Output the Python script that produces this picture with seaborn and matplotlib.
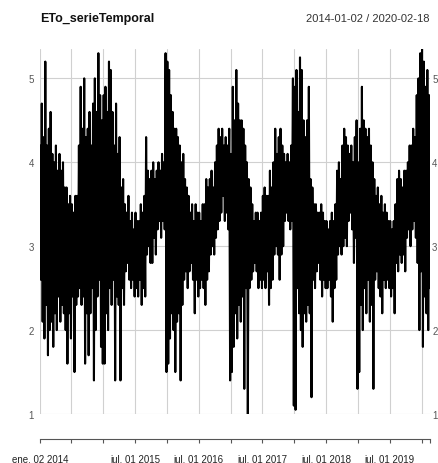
import matplotlib
matplotlib.use("Agg")
import matplotlib.pyplot as plt
import seaborn as sns
import numpy as np
import pandas as pd

# ---- data (~6 readings per month: high/low alternating) ----
eto_2014 = [
    4.2, 2.6, 4.7, 2.1, 4.3, 1.9,   # Jan
    5.2, 2.3, 4.2, 1.7, 4.4, 2.0,   # Feb
    4.6, 2.1, 4.1, 1.8, 4.0, 2.2,   # Mar
    4.2, 2.0, 3.9, 2.4, 4.1, 2.1,   # Apr
    3.9, 2.3, 4.0, 2.2, 3.7, 2.0,   # May
    3.7, 1.6, 3.5, 2.2, 3.6, 1.9,   # Jun
    3.5, 2.4, 3.4, 1.5, 3.6, 2.3,   # Jul
    3.6, 2.4, 4.2, 2.5, 4.9, 2.3,   # Aug
    4.4, 2.4, 5.0, 1.6, 4.3, 2.2,   # Sep
    4.4, 1.7, 4.6, 2.2, 4.2, 2.5,   # Oct
    4.7, 1.4, 5.0, 2.0, 4.6, 2.4,   # Nov
    5.3, 2.6, 4.8, 1.8, 4.5, 1.6,   # Dec
]
eto_2015 = [
    4.8, 1.6, 4.9, 2.2, 4.6, 2.0,
    5.2, 2.5, 5.1, 2.3, 4.6, 2.6,
    4.2, 1.4, 4.7, 2.4, 4.1, 2.3,
    4.3, 1.4, 3.7, 2.5, 3.8, 2.3,
    3.5, 2.7, 3.4, 2.8, 3.6, 2.6,
    3.3, 2.5, 3.4, 2.6, 3.2, 2.4,
    3.4, 2.5, 3.3, 2.4, 3.3, 2.6,
    3.5, 2.3, 3.4, 2.5, 3.6, 2.4,
    4.3, 2.9, 3.9, 3.0, 3.8, 2.8,
    3.9, 2.8, 4.0, 3.1, 3.8, 2.9,
    3.9, 3.2, 4.0, 3.3, 3.9, 3.1,
    4.1, 3.3, 4.0, 3.2, 5.3, 1.5,
]
eto_2016 = [
    5.2, 1.6, 5.1, 1.9, 4.8, 2.2,
    4.6, 2.0, 4.4, 1.5, 4.4, 2.1,
    4.3, 2.2, 4.2, 1.4, 4.0, 2.3,
    4.1, 2.6, 3.8, 2.7, 3.7, 2.5,
    3.6, 2.7, 3.4, 2.8, 3.5, 2.6,
    3.3, 2.2, 3.5, 2.6, 3.4, 2.4,
    3.4, 2.5, 3.3, 2.6, 3.5, 2.5,
    3.5, 2.3, 3.8, 2.6, 3.7, 2.7,
    3.8, 2.9, 3.9, 3.0, 3.7, 2.9,
    4.0, 3.1, 4.2, 3.2, 4.4, 3.3,
    4.3, 3.4, 4.4, 3.6, 4.2, 3.3,
    4.3, 3.4, 4.2, 3.2, 4.4, 1.4,
]
eto_2017 = [
    4.1, 1.5, 4.9, 1.8, 4.5, 2.2,
    5.1, 1.9, 4.7, 2.3, 4.5, 2.1,
    4.5, 2.4, 4.4, 1.3, 4.2, 2.5,
    4.0, 1.0, 3.8, 2.5, 3.7, 2.6,
    3.5, 2.7, 3.3, 2.8, 3.4, 2.7,
    3.4, 2.5, 3.3, 2.6, 3.4, 2.5,
    3.6, 2.6, 3.7, 2.5, 3.6, 2.7,
    3.6, 2.3, 3.9, 2.5, 3.7, 2.6,
    4.0, 2.9, 4.4, 3.0, 4.1, 2.9,
    4.3, 2.6, 4.4, 2.9, 4.2, 3.0,
    4.1, 3.3, 4.0, 3.4, 4.1, 3.3,
    4.0, 3.2, 4.2, 3.3, 5.0, 1.1,
]
eto_2018 = [
    4.9, 1.05, 5.1, 2.5, 4.6, 2.2,
    5.25, 2.0, 5.1, 1.8, 4.5, 2.2,
    4.3, 2.1, 4.5, 2.3, 4.9, 2.2,
    3.8, 1.2, 3.7, 2.6, 3.5, 2.5,
    3.5, 2.7, 3.4, 2.8, 3.4, 2.6,
    3.5, 2.4, 3.4, 2.6, 3.3, 2.5,
    3.3, 2.5, 3.2, 2.6, 3.3, 2.4,
    3.4, 2.1, 3.3, 2.5, 3.5, 2.6,
    3.9, 2.9, 4.0, 3.0, 3.8, 2.9,
    4.2, 3.0, 4.4, 3.1, 4.3, 3.0,
    4.2, 3.3, 4.1, 3.4, 4.2, 3.2,
    4.0, 2.8, 4.3, 3.1, 4.5, 1.3,
]
eto_2019 = [
    4.0, 1.5, 4.4, 2.3, 4.9, 2.0,
    4.5, 2.5, 4.4, 2.2, 4.3, 2.6,
    4.4, 2.1, 4.2, 2.3, 4.0, 1.3,
    3.8, 2.6, 3.6, 2.7, 3.7, 2.5,
    3.5, 2.4, 3.6, 2.2, 3.4, 2.6,
    3.5, 2.5, 3.4, 2.6, 3.3, 2.5,
    3.3, 2.4, 3.2, 2.5, 3.3, 2.2,
    3.5, 2.8, 3.8, 2.7, 3.9, 2.9,
    3.8, 2.8, 3.7, 2.9, 3.9, 2.7,
    3.9, 3.1, 4.0, 3.2, 4.2, 3.0,
    4.2, 3.2, 4.4, 3.3, 4.3, 3.1,
    4.8, 2.8, 5.0, 2.0, 5.3, 2.7,
]
eto_2020 = [
    5.35, 1.8, 5.2, 2.4, 4.9, 2.2,
    5.1, 2.0, 4.8, 2.5,
]

start_date = "2014-01-02"
end_date = "2020-02-18"
title_text = "ETo_serieTemporal"
range_text = "2014-01-02 / 2020-02-18"

tick_dates = ["2014-01-02", "2014-07-01", "2015-01-01", "2015-07-01", "2016-01-01",
              "2016-07-01", "2017-01-01", "2017-07-01", "2018-01-01", "2018-07-01",
              "2019-01-01", "2019-07-01", "2020-01-01"]
tick_labels = ["ene. 02 2014", "", "", "jul. 01 2015", "", "jul. 01 2016", "",
               "jul. 01 2017", "", "jul. 01 2018", "", "jul. 01 2019", ""]
y_ticks = [1, 2, 3, 4, 5]

values = np.array(eto_2014 + eto_2015 + eto_2016 + eto_2017 + eto_2018 + eto_2019 + eto_2020)
dates = pd.date_range(start_date, end_date, periods=len(values))
df = pd.DataFrame({"date": dates, "ETo": values})

# ---- figure ----
sns.set_theme(style="white")
plt.rcParams["font.family"] = ["Liberation Sans", "DejaVu Sans"]

W, H = 439, 464
fig = plt.figure(figsize=(W / 100, H / 100), dpi=100)
ax = fig.add_axes([40 / W, (H - 415) / H, 390 / W, 365 / H])

sns.lineplot(data=df, x="date", y="ETo", ax=ax, color="black", linewidth=1.5,
             estimator=None, zorder=3)

ax.set_xlim(pd.Timestamp(start_date), pd.Timestamp(end_date))
ax.set_ylim(values.min(), values.max())

# grid
ax.set_yticks(y_ticks)
ax.grid(True, axis="y", color="#d0d0d0", linewidth=0.8, zorder=0)
ax.set_xticks(pd.to_datetime(tick_dates))
ax.set_xticklabels(tick_labels)
ax.set_xticks([pd.Timestamp(end_date)], minor=True)
ax.grid(True, axis="x", which="major", color="#d0d0d0", linewidth=0.8, zorder=0)

for s in ["top", "left", "right"]:
    ax.spines[s].set_visible(False)
ax.spines["bottom"].set_position(("outward", 18))
ax.spines["bottom"].set_color("#555555")
ax.spines["bottom"].set_linewidth(0.8)

ax.tick_params(axis="x", which="both", direction="out", length=3, width=0.8,
               color="#555555", labelsize=7, labelcolor="#222222", pad=8, bottom=True)
ax.tick_params(axis="y", length=0, labelsize=7, labelcolor="#555555",
               left=False, labelleft=True, pad=4.5)

# right-hand labels sit just inside the figure edge
ax_r = ax.secondary_yaxis("right")
ax_r.set_yticks(y_ticks)
ax_r.spines["right"].set_visible(False)
ax_r.tick_params(axis="y", length=0, labelsize=7, labelcolor="#555555", pad=1.5)

ax.set_xlabel("")
ax.set_ylabel("")

fig.text(40 / W, 1 - 19 / H, title_text, fontsize=9, fontweight="bold",
         ha="left", va="center", color="#111111")
fig.text(430 / W, 1 - 19 / H, range_text, fontsize=8, ha="right", va="center",
         color="#333333")

fig.savefig("out.png", dpi=100, facecolor="white")
